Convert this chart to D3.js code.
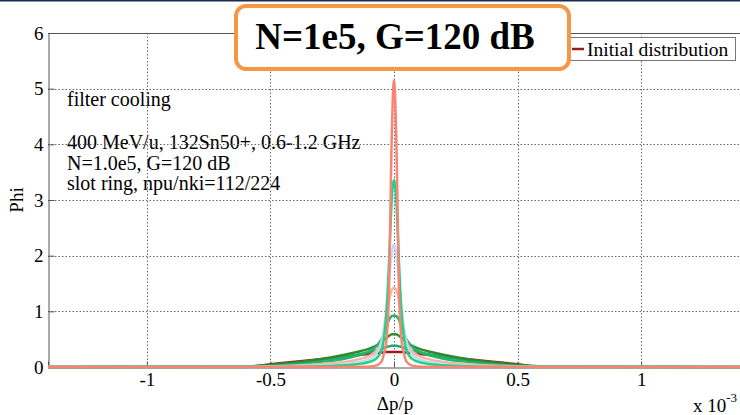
<!DOCTYPE html>
<html>
<head>
<meta charset="utf-8">
<script src="https://cdn.jsdelivr.net/npm/d3@7"></script>
<style>
  body { margin: 0; background: #fff; }
  svg { display: block; font-family: "Liberation Serif", "Times New Roman", serif; }
</style>
</head>
<body>
<svg id="svg" width="740" height="415"></svg>
<script>
// dp/p grid in units of 1e-3
var dpGrid = [-1.4, -0.6, -0.5, -0.4, -0.3, -0.2, -0.15, -0.1, -0.07, -0.05, -0.04, -0.03, -0.02, -0.015, -0.01, -0.005,
  0, 0.005, 0.01, 0.015, 0.02, 0.03, 0.04, 0.05, 0.07, 0.1, 0.15, 0.2, 0.3, 0.4, 0.5, 0.6, 1.4];

var phiInitial = [0, 0, 0.05, 0.095, 0.14, 0.185, 0.21, 0.235, 0.25, 0.26, 0.265, 0.27, 0.27, 0.27, 0.27, 0.27,
  0.27, 0.27, 0.27, 0.27, 0.27, 0.27, 0.265, 0.26, 0.25, 0.235, 0.21, 0.185, 0.14, 0.095, 0.05, 0, 0];
var phiStep1 = [0, 0.005, 0.03, 0.07, 0.12, 0.18, 0.22, 0.27, 0.30, 0.33, 0.345, 0.36, 0.37, 0.375, 0.38, 0.38,
  0.38, 0.38, 0.38, 0.375, 0.37, 0.36, 0.345, 0.33, 0.30, 0.27, 0.22, 0.18, 0.12, 0.07, 0.03, 0.005, 0];
var phiStep2 = [0, 0.01, 0.04, 0.08, 0.14, 0.22, 0.27, 0.33, 0.39, 0.45, 0.49, 0.53, 0.56, 0.575, 0.585, 0.59,
  0.59, 0.59, 0.585, 0.575, 0.56, 0.53, 0.49, 0.45, 0.39, 0.33, 0.27, 0.22, 0.14, 0.08, 0.04, 0.01, 0];
var phiStep3 = [0, 0.005, 0.02, 0.05, 0.09, 0.15, 0.2, 0.28, 0.38, 0.5, 0.6, 0.72, 0.85, 0.89, 0.91, 0.92,
  0.92, 0.92, 0.91, 0.89, 0.85, 0.72, 0.6, 0.5, 0.38, 0.28, 0.2, 0.15, 0.09, 0.05, 0.02, 0.005, 0];
var phiStep4 = [0, 0, 0.01, 0.025, 0.05, 0.09, 0.13, 0.2, 0.3, 0.47, 0.68, 0.95, 1.2, 1.3, 1.37, 1.41,
  1.42, 1.41, 1.37, 1.3, 1.2, 0.95, 0.68, 0.47, 0.3, 0.2, 0.13, 0.09, 0.05, 0.025, 0.01, 0, 0];
var phiStep5 = [0, 0, 0.003, 0.01, 0.025, 0.05, 0.08, 0.14, 0.25, 0.45, 0.7, 1.1, 1.58, 1.82, 2.02, 2.15,
  2.19, 2.15, 2.02, 1.82, 1.58, 1.1, 0.7, 0.45, 0.25, 0.14, 0.08, 0.05, 0.025, 0.01, 0.003, 0, 0];
var phiStep6 = [0, 0, 0, 0.005, 0.012, 0.03, 0.05, 0.09, 0.16, 0.3, 0.55, 1.0, 1.9, 2.45, 2.95, 3.25,
  3.36, 3.25, 2.95, 2.45, 1.9, 1.0, 0.55, 0.3, 0.16, 0.09, 0.05, 0.03, 0.012, 0.005, 0, 0, 0];
var phiStep7 = [0, 0, 0, 0, 0, 0, 0.004, 0.01, 0.03, 0.1, 0.25, 0.5, 1.4, 2.7, 4.0, 4.8,
  5.15, 4.8, 4.0, 2.7, 1.4, 0.5, 0.25, 0.1, 0.03, 0.01, 0.004, 0, 0, 0, 0, 0, 0];

var seriesValues = [phiInitial, phiStep1, phiStep2, phiStep3, phiStep4, phiStep5, phiStep6, phiStep7];
var seriesColors = ["#9b1c1c", "#24a86c", "#2f8a2a", "#22b46e", "#f5b79b", "#c9d5f5", "#1dd38a", "#f98474"];

var xTicks = [-1, -0.5, 0, 0.5, 1];
var xTickLabels = ["-1", "-0.5", "0", "0.5", "1"];
var yTicks = [0, 1, 2, 3, 4, 5, 6];

var notes = ["filter cooling", "", "400 MeV/u, 132Sn50+, 0.6-1.2 GHz", "N=1.0e5, G=120 dB", "slot ring, npu/nki=112/224"];

(function() {
  var svg = d3.select("#svg");
  var plotLeft = 48, plotRight = 740, plotTop = 33, plotBottom = 367;

  var x = d3.scaleLinear().domain([-1.4, 1.4]).range([plotLeft, plotRight]);
  var y = d3.scaleLinear().domain([0, 6]).range([plotBottom, plotTop]);

  // slide border at the very top
  svg.append("rect").attr("x", 0).attr("y", 0).attr("width", 740).attr("height", 1.5).attr("fill", "#1d2b52");

  // annotation text (drawn under the grid)
  var noteG = svg.append("g").attr("font-size", 20).attr("fill", "#000");
  var noteY = [106, 127, 149, 170, 190];
  notes.forEach(function(t, i) {
    if (t) noteG.append("text").attr("x", 67).attr("y", noteY[i]).text(t);
  });

  // grid
  var grid = svg.append("g").attr("stroke", "#666").attr("stroke-width", 1).attr("stroke-dasharray", "1.5,2");
  grid.selectAll(".gx").data(xTicks).join("line")
    .attr("x1", d => Math.round(x(d)) + 0.5).attr("x2", d => Math.round(x(d)) + 0.5)
    .attr("y1", plotTop).attr("y2", plotBottom);
  grid.selectAll(".gy").data(yTicks.filter(d => d > 0 && d < 6)).join("line")
    .attr("y1", d => Math.round(y(d)) + 0.5).attr("y2", d => Math.round(y(d)) + 0.5)
    .attr("x1", plotLeft).attr("x2", plotRight);

  // top border
  svg.append("line").attr("x1", plotLeft).attr("x2", plotRight).attr("y1", plotTop + 0.5).attr("y2", plotTop + 0.5)
    .attr("stroke", "#555").attr("stroke-width", 1);

  // axes
  var yAxis = svg.append("g").attr("transform", "translate(" + (plotLeft + 0.5) + ",0)")
    .call(d3.axisLeft(y).tickValues(yTicks).tickFormat(d3.format("d")).tickSize(-6).tickPadding(5));
  var xAxis = svg.append("g").attr("transform", "translate(0," + (plotBottom + 0.5) + ")")
    .call(d3.axisBottom(x).tickValues(xTicks).tickFormat((d, i) => xTickLabels[i]).tickSize(-6).tickPadding(5));
  [yAxis, xAxis].forEach(function(a) {
    a.attr("font-family", "Liberation Serif, Times New Roman, serif").attr("font-size", 19);
    a.select(".domain").attr("stroke", "#555");
    a.selectAll(".tick line").attr("stroke", "#555");
    a.selectAll(".tick text").attr("fill", "#000");
  });

  // curves
  var line = d3.line()
    .x((d, i) => x(dpGrid[i]))
    .y(d => y(d))
    .curve(d3.curveMonotoneX);
  svg.append("g").selectAll("path").data(seriesValues).join("path")
    .attr("d", d => line(d))
    .attr("fill", "none")
    .attr("stroke", (d, i) => seriesColors[i])
    .attr("stroke-width", 2.5)
    .attr("stroke-linejoin", "round");

  // axis labels
  svg.append("text").attr("transform", "translate(23,200) rotate(-90)").attr("text-anchor", "middle")
    .attr("font-size", 19).text("Phi");
  svg.append("text").attr("x", 395).attr("y", 410).attr("text-anchor", "middle").attr("font-size", 19).text("Δp/p");
  var mult = svg.append("text").attr("x", 693).attr("y", 412).attr("font-size", 19);
  mult.append("tspan").text("x 10");
  mult.append("tspan").attr("dy", -10).attr("font-size", 13).text("-3");

  // legend
  var legend = svg.append("g");
  legend.append("rect").attr("x", 566.5).attr("y", 37.5).attr("width", 169).attr("height", 23)
    .attr("fill", "#fff").attr("stroke", "#777").attr("stroke-width", 1);
  legend.append("line").attr("x1", 572).attr("x2", 584).attr("y1", 49).attr("y2", 49)
    .attr("stroke", seriesColors[0]).attr("stroke-width", 2.5);
  legend.append("text").attr("x", 587).attr("y", 56).attr("font-size", 19.5).text("Initial distribution");

  // title call-out box
  svg.append("rect").attr("x", 236).attr("y", 6).attr("width", 333).attr("height", 63).attr("rx", 10)
    .attr("fill", "#fff").attr("stroke", "#f79646").attr("stroke-width", 4);
  svg.append("text").attr("x", 395).attr("y", 49).attr("text-anchor", "middle")
    .attr("font-size", 37).attr("font-weight", "bold").text("N=1e5, G=120 dB");
})();
</script>
</body>
</html>
